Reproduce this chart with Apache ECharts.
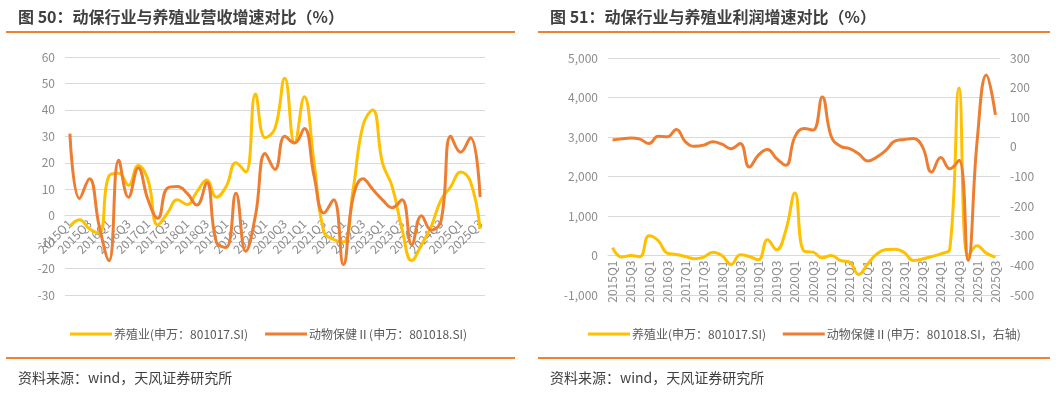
<!DOCTYPE html>
<html>
<head>
<meta charset="utf-8">
<script src="https://cdn.jsdelivr.net/npm/echarts@6/dist/echarts.min.js"></script>
<style>
html,body{margin:0;padding:0;background:#fff;}
#c{width:1056px;height:396px;}
</style>
</head>
<body>
<div id="c"></div>
<script>
// Quarters 2015Q1 .. 2025Q3
const quarters = [];
for (let y = 2015; y <= 2025; y++) { for (let q = 1; q <= 4; q++) { if (y === 2025 && q > 3) break; quarters.push(y + 'Q' + q); } }

// Figure 50: revenue growth (%)
const revBreeding = [-4, -1.5, -5, -6.5, 15, 16, 11.5, 19, 13.5, -3.5, 1, 6, 4.2, 9, 13.5, 7, 11, 20, 16.5, 46, 29.5, 33, 52, 27.5, 45, 20, -6, -9, -10, 10, 34, 40, 20, 11, -5, -17, -11, -4, 6, 11, 16.5, 13, -5];
const revAnimalHealth = [31, 6.5, 14, -4, -17, 21, 7, 18, 6, -1, 10.5, 11, 8.5, 4, 12.5, -10, -12, 8.5, -13.5, 0, 23.5, 17.5, 30, 27.5, 33, 15, 1, 6, -18.5, 7, 14, 10, 6, 3, 6, -11, 0, -5.5, -2, 30, 24, 29.5, 7];

// Figure 51: profit growth (%)
const profBreeding = [200, -40, 0, -30, 500, 380, 60, 25, -25, -85, -42, 85, 0, -230, 17, -25, -110, 400, 144, 635, 1585, 110, 85, -60, 0, -127, -170, -480, -210, 40, 150, 160, 75, -127, -90, -25, 40, 170, 4240, -30, 250, 60, -40];
const profAnimalHealth = [23, 27, 30, 26, 11, 36, 34, 59, 17, 2, 6, 17, 9, -6, 11, -68, -28, -9, -40, -62, 34, 62, 57, 168, 34, 2, -6, -23, -48, -34, -11, 20, 25, 28, 0, -85, -36, -74, -45, -383, 23, 243, 108];

const leftTicks = { min: -30, max: 60, interval: 10 };
const rightTicksL = { min: -1000, max: 5000, interval: 1000 };
const rightTicksR = { min: -500, max: 300, interval: 100 };

const YELLOW = '#FFC000', ORANGE = '#ED7D31', RULE = '#EE822F';
const LBL = '#8C8C8C', GRID = '#D9D9D9';
const FONT = '"Noto Sans CJK SC", "Noto Sans", sans-serif';

// grid geometry
const G1 = { left: 65, top: 57, width: 420, height: 238 };
const G2 = { left: 608, top: 58, width: 392, height: 237 };
// offsets that move the category axes up to the zero line of their value axes
const off1 = -G1.height * (0 - leftTicks.min) / (leftTicks.max - leftTicks.min);
const off2 = -G2.height * (0 - rightTicksL.min) / (rightTicksL.max - rightTicksL.min);

const chart = echarts.init(document.getElementById('c'), null, { renderer: 'canvas' });

function yAx(gridIndex, t, extra) {
  return Object.assign({
    type: 'value', gridIndex, min: t.min, max: t.max, interval: t.interval,
    axisLine: { show: false }, axisTick: { show: false },
    axisLabel: { color: LBL, fontSize: 12, fontFamily: FONT, margin: 10 },
    splitLine: { lineStyle: { color: GRID, width: 1 } }
  }, extra || {});
}

const option = {
  animation: false,
  textStyle: { fontFamily: FONT },
  title: [
    { text: '图 50：动保行业与养殖业营收增速对比（%）', left: 13, top: 4, textStyle: { fontSize: 16, fontWeight: 'bold', color: '#404040', fontFamily: FONT } },
    { text: '图 51：动保行业与养殖业利润增速对比（%）', left: 545, top: 4, textStyle: { fontSize: 16, fontWeight: 'bold', color: '#404040', fontFamily: FONT } },
    { text: '资料来源：wind，天风证券研究所', left: 13, top: 366, textStyle: { fontSize: 14, fontWeight: 'normal', color: '#404040', fontFamily: FONT } },
    { text: '资料来源：wind，天风证券研究所', left: 545, top: 366, textStyle: { fontSize: 14, fontWeight: 'normal', color: '#404040', fontFamily: FONT } }
  ],
  graphic: [
    { type: 'rect', shape: { x: 6, y: 31, width: 509, height: 2 }, style: { fill: RULE } },
    { type: 'rect', shape: { x: 538, y: 31, width: 512, height: 2 }, style: { fill: RULE } },
    { type: 'rect', shape: { x: 6, y: 357, width: 509, height: 2 }, style: { fill: RULE } },
    { type: 'rect', shape: { x: 538, y: 357, width: 512, height: 2 }, style: { fill: RULE } }
  ],
  legend: [
    { left: 65, top: 323, itemWidth: 42, itemHeight: 3, itemGap: 17, icon: 'rect',
      textStyle: { color: '#595959', fontSize: 12, fontFamily: FONT, padding: [0, 0, 0, -3] },
      data: ['养殖业(申万：801017.SI)', '动物保健Ⅱ(申万：801018.SI)'] },
    { left: 583, top: 323, itemWidth: 42, itemHeight: 3, itemGap: 14, icon: 'rect',
      textStyle: { color: '#595959', fontSize: 12, fontFamily: FONT, padding: [0, 0, 0, -3] },
      data: ['养殖业(申万：801017.SI) ', '动物保健Ⅱ(申万：801018.SI，右轴)'] }
  ],
  grid: [
    Object.assign({ containLabel: false }, G1),
    Object.assign({ containLabel: false }, G2)
  ],
  xAxis: [
    { type: 'category', gridIndex: 0, data: quarters, boundaryGap: true, position: 'bottom', offset: off1,
      axisLine: { onZero: false, lineStyle: { color: GRID } }, axisTick: { show: false },
      axisLabel: { interval: 1, rotate: 45, color: LBL, fontSize: 12, fontFamily: FONT, margin: 6 } },
    { type: 'category', gridIndex: 1, data: quarters, boundaryGap: true, position: 'bottom', offset: off2,
      axisLine: { onZero: false, lineStyle: { color: GRID } }, axisTick: { show: false },
      axisLabel: { interval: 1, rotate: 90, color: LBL, fontSize: 12, fontFamily: FONT, margin: 5 } }
  ],
  yAxis: [
    yAx(0, leftTicks),
    yAx(1, rightTicksL, { axisLabel: { color: LBL, fontSize: 12, fontFamily: FONT, margin: 10, formatter: v => v.toLocaleString('en-US') } }),
    yAx(1, rightTicksR, { position: 'right', splitLine: { show: false } })
  ],
  series: [
    { name: '养殖业(申万：801017.SI)', type: 'line', xAxisIndex: 0, yAxisIndex: 0, data: revBreeding, smooth: 0.45, showSymbol: false, lineStyle: { color: YELLOW, width: 3 }, itemStyle: { color: YELLOW } },
    { name: '动物保健Ⅱ(申万：801018.SI)', type: 'line', xAxisIndex: 0, yAxisIndex: 0, data: revAnimalHealth, smooth: 0.45, showSymbol: false, lineStyle: { color: ORANGE, width: 3 }, itemStyle: { color: ORANGE } },
    { name: '养殖业(申万：801017.SI) ', type: 'line', xAxisIndex: 1, yAxisIndex: 1, data: profBreeding, smooth: 0.45, showSymbol: false, lineStyle: { color: YELLOW, width: 3 }, itemStyle: { color: YELLOW } },
    { name: '动物保健Ⅱ(申万：801018.SI，右轴)', type: 'line', xAxisIndex: 1, yAxisIndex: 2, data: profAnimalHealth, smooth: 0.45, showSymbol: false, lineStyle: { color: ORANGE, width: 3 }, itemStyle: { color: ORANGE } }
  ]
};
chart.setOption(option);
</script>
</body>
</html>
